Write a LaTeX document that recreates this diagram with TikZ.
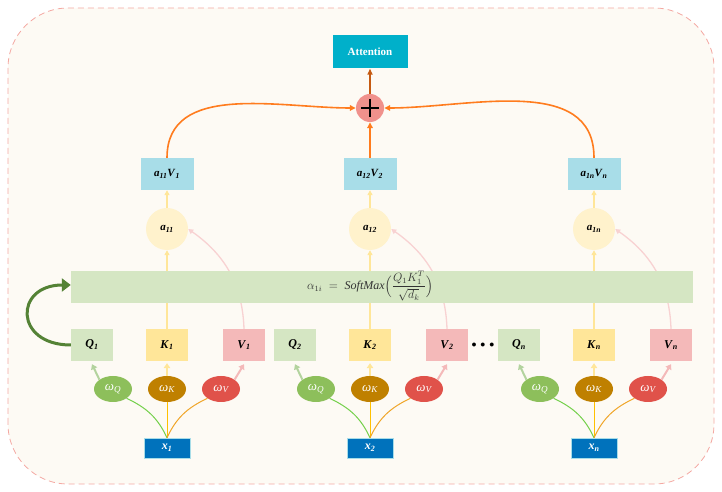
\documentclass[tikz,border=0pt]{standalone}
\usepackage{fontspec}
\setmainfont{Liberation Serif}
\usepackage{amsmath}
\usetikzlibrary{arrows.meta, positioning, shapes.geometric}

\definecolor{bgcream}{HTML}{FDFAF4}
\definecolor{framepink}{HTML}{F4A8A2}
\definecolor{attncyan}{HTML}{00B0CA}
\definecolor{plusred}{HTML}{F0918C}
\definecolor{avblue}{HTML}{A8DDE8}
\definecolor{ayellow}{HTML}{FFF2CC}
\definecolor{qgreen}{HTML}{D5E6C3}
\definecolor{qarrow}{HTML}{B3D39E}
\definecolor{kyellow}{HTML}{FFE699}
\definecolor{vpink}{HTML}{F4B9B9}
\definecolor{wqgreen}{HTML}{8DBF5B}
\definecolor{wkgold}{HTML}{BF8000}
\definecolor{wvred}{HTML}{E0524A}
\definecolor{xblue}{HTML}{0072BC}
\definecolor{linegreen}{HTML}{74D04A}
\definecolor{lineyellow}{HTML}{FFC000}
\definecolor{lineorange}{HTML}{F0A528}
\definecolor{sumorange}{HTML}{FF7C1E}
\definecolor{outbrown}{HTML}{C55A11}
\definecolor{arcgreen}{HTML}{548235}

\newcommand{\lab}[2]{\textbf{\textit{#1}}\textsubscript{\textbf{\textit{#2}}}}

\begin{document}
\begin{tikzpicture}[x=1pt, y=1pt,
  box/.style={rectangle, minimum width=42pt, minimum height=32pt, inner sep=0pt,
    font=\fontsize{12}{14}\selectfont},
  wnode/.style={ellipse, minimum width=38pt, minimum height=26pt, inner sep=0pt,
    text=white, font=\fontsize{13}{15}\selectfont\itshape},
  anode/.style={circle, minimum size=42pt, inner sep=0pt, fill=ayellow,
    font=\fontsize{11}{13}\selectfont},
  avbox/.style={rectangle, minimum width=53pt, minimum height=32pt, inner sep=0pt,
    fill=avblue, font=\fontsize{11}{13}\selectfont},
  xbox/.style={rectangle, minimum width=46pt, minimum height=20pt, inner sep=0pt,
    fill=xblue, draw=avblue, line width=0.5pt, text=white, font=\fontsize{12}{14}\selectfont},
  warrow/.style={line width=2pt, -{Triangle[length=5pt,width=6.5pt]}},
  thinarrow/.style={line width=1.3pt, -{Triangle[length=5pt,width=5pt]}},
  sumarrow/.style={sumorange, line width=1.6pt, -{Triangle[length=6pt,width=5.5pt]}}]
  \useasboundingbox (0,0) rectangle (722,492);
  % frame
  \draw[framepink, fill=bgcream, dashed, dash pattern=on 6pt off 4pt, line width=0.8pt,
    rounded corners=60pt] (8,8) rectangle (714,484);

  % top: attention and sum
  \node[rectangle, fill=attncyan, minimum width=75pt, minimum height=33pt, text=white,
    font=\fontsize{11}{13}\selectfont\bfseries] (attn) at (370,440) {Attention};
  \node[circle, fill=plusred, minimum size=28pt, inner sep=0pt,
    path picture={\draw[line width=1.8pt] (path picture bounding box.center) +(-9pt,0) -- +(9pt,0)
      (path picture bounding box.center) +(0,-9pt) -- +(0,9pt);}] (plus) at (370,384) {};

  % three heads
  \foreach \cx/\i/\a in {167/1/11, 370/2/12, 594/n/1n} {
    \node[xbox] (x\i) at (\cx,44) {\lab{x}{\i}};
    \node[wnode, fill=wqgreen] (wQ\i) at (\cx-54,103) {ω\textsubscript{\textit{Q}}};
    \node[wnode, fill=wkgold] (wK\i) at (\cx,103) {ω\textsubscript{\textit{K}}};
    \node[wnode, fill=wvred] (wV\i) at (\cx+54,103) {ω\textsubscript{\textit{V}}};
    \node[box, fill=qgreen] (Q\i) at (\cx-75,147) {\lab{Q}{\i}};
    \node[box, fill=kyellow] (K\i) at (\cx,147) {\lab{K}{\i}};
    \node[box, fill=vpink] (V\i) at (\cx+77,147) {\lab{V}{\i}};
    \node[anode] (a\i) at (\cx,263) {\lab{a}{\a}};
    \node[avbox] (av\i) at (\cx,318) {\lab{a}{\a}\lab{V}{\i}};
    % x to weights
    \draw[linegreen, line width=1pt] (x\i.north) to[out=115,in=-25] (wQ\i.south east);
    \draw[lineyellow, line width=1pt] (x\i.north) -- (wK\i.south);
    \draw[lineorange, line width=1pt] (x\i.north) to[out=65,in=205] (wV\i.south west);
    % weights to Q, K, V
    \draw[warrow, qarrow] (wQ\i.north west) -- ([yshift=-3pt]Q\i.south);
    \draw[warrow, kyellow] (wK\i.north) -- ([yshift=-2pt]K\i.south);
    \draw[warrow, vpink] (wV\i.north east) -- ([yshift=-3pt]V\i.south);
    % K, V to scores
    \draw[thinarrow, kyellow] (K\i.north) -- (a\i.south);
    \draw[thinarrow, vpink!65] (V\i.north) to[out=92,in=-35] (a\i.east);
    \draw[thinarrow, kyellow] (a\i.north) -- (av\i.south);
  }
  \node (dots) at (483,147) {$\bullet\,\bullet\,\bullet$};

  % softmax bar (covers the lines)
  \node[rectangle, fill=qgreen, minimum width=622pt, minimum height=32pt, inner sep=0pt]
    (bar) at (382,205) {};
  \node[text=black!80, font=\fontsize{12}{14}\selectfont, inner sep=0pt] (softmax) at (370,206)
    {$\displaystyle \alpha_{1i}\;=\;\mathit{SoftMax}\Bigl(\frac{Q_1K_1^{T}}{\sqrt{d_k}}\Bigr)$};
  \draw[arcgreen, line width=3pt, -{Triangle[length=9pt,width=13pt]}]
    (Q1.west) .. controls (14,147) and (14,207) .. ([yshift=2pt]bar.west);

  % sum
  \draw[sumarrow] (av1.north) to[out=90,in=180] (plus.west);
  \draw[sumarrow] (av2.north) -- (plus.south);
  \draw[sumarrow] (avn.north) to[out=90,in=0] (plus.east);
  \draw[outbrown, line width=1.6pt, -{Triangle[length=6pt,width=5pt]}] (plus.north) -- (attn.south);
\end{tikzpicture}
\end{document}
